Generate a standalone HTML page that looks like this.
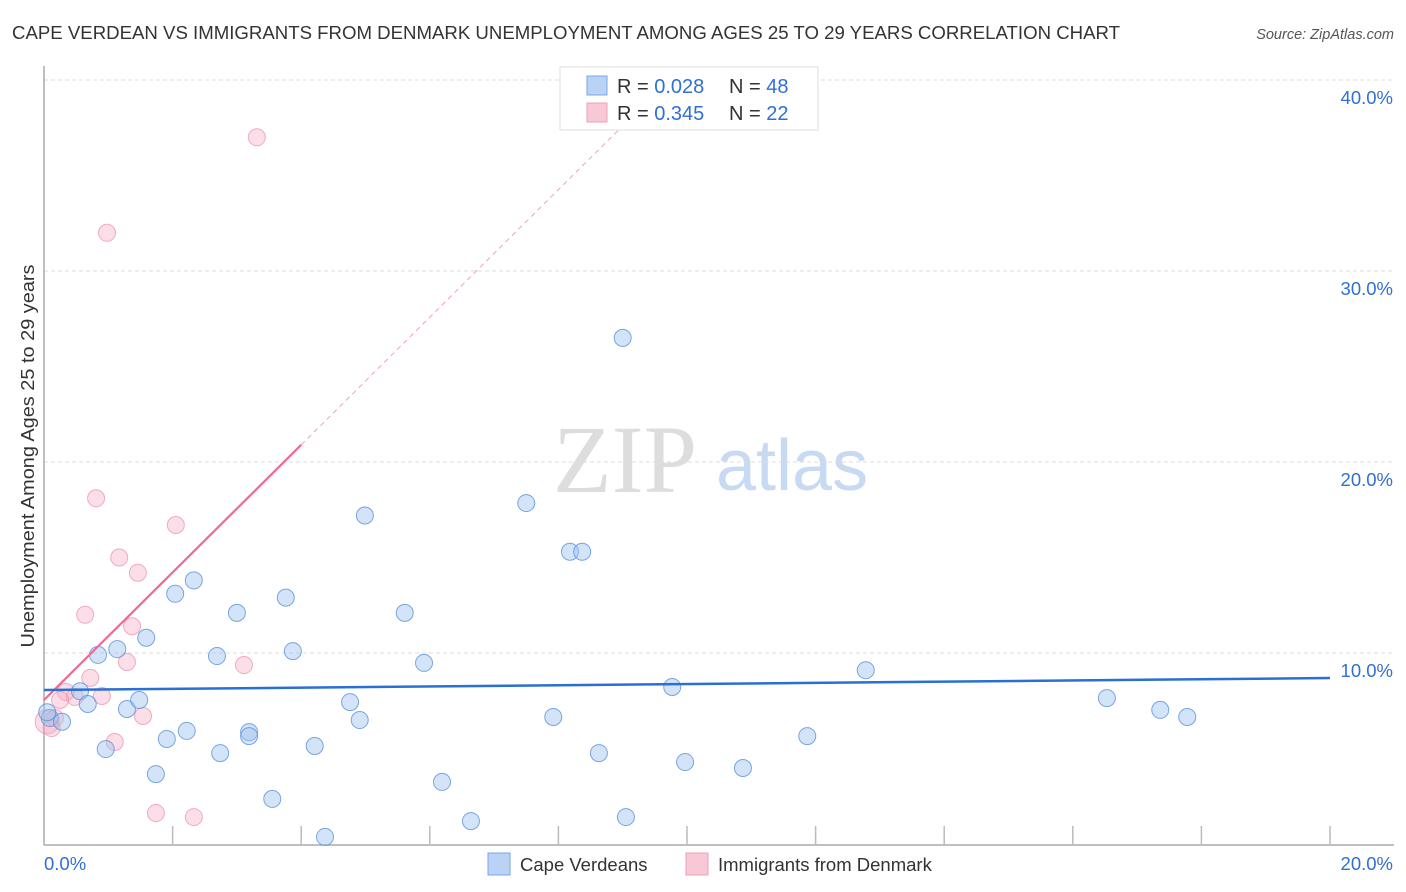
<!DOCTYPE html>
<html><head><meta charset="utf-8"><style>
body{margin:0;background:#fff;font-family:"Liberation Sans",sans-serif;}
svg{display:block}
</style></head><body>
<svg id="chart" width="1406" height="892">
<text x="12" y="39" font-size="18.4" fill="#333" textLength="1108" lengthAdjust="spacingAndGlyphs">CAPE VERDEAN VS IMMIGRANTS FROM DENMARK UNEMPLOYMENT AMONG AGES 25 TO 29 YEARS CORRELATION CHART</text>
<text x="1394" y="39" font-size="14.5" fill="#555" font-style="italic" text-anchor="end">Source: ZipAtlas.com</text>
<g>
<text x="553" y="492" font-family="Liberation Serif,serif" font-size="96" fill="#ddd">ZIP</text>
<text x="716" y="490" font-size="72" fill="#c8daf2">atlas</text>
</g>
<g id="grid"></g>
<g id="axes"></g>
<g id="marks"></g>
<text transform="translate(34,456) rotate(-90)" font-size="18.5" fill="#333" text-anchor="middle" textLength="383" lengthAdjust="spacingAndGlyphs">Unemployment Among Ages 25 to 29 years</text>
<g>
<rect x="560" y="67" width="258" height="63" fill="#fff" stroke="#ddd"/>
<rect x="587" y="76" width="20" height="19" fill="#b9d2f5" stroke="#7aa7e6"/>
<text x="617" y="93" font-size="20" fill="#333">R = <tspan fill="#2f6fd6">0.028</tspan></text>
<text x="729" y="93" font-size="20" fill="#333">N = <tspan fill="#2f6fd6">48</tspan></text>
<rect x="587" y="103" width="20" height="19" fill="#f9c8d6" stroke="#f0a0b8"/>
<text x="617" y="120" font-size="20" fill="#333">R = <tspan fill="#2f6fd6">0.345</tspan></text>
<text x="729" y="120" font-size="20" fill="#333">N = <tspan fill="#2f6fd6">22</tspan></text>
</g>
<g>
<rect x="488" y="853" width="22" height="22" fill="#b9d2f5" stroke="#7aa7e6"/>
<text x="520" y="871" font-size="18.5" fill="#333">Cape Verdeans</text>
<rect x="686" y="853" width="22" height="22" fill="#f9c8d6" stroke="#f0a0b8"/>
<text x="718" y="871" font-size="18.5" fill="#333">Immigrants from Denmark</text>
</g>
</svg>
<script>
const blueX=[0.09,0.28,0.56,0.68,0.84,0.96,1.14,1.29,1.48,1.59,1.74,1.91,2.04,2.22,2.33,2.69,2.74,3.0,3.19,3.19,3.55,3.76,3.87,4.21,4.37,4.76,4.91,4.99,5.61,5.91,6.19,6.64,7.5,7.92,8.18,8.37,8.63,9.0,9.05,9.77,9.97,10.87,11.87,12.78,16.53,17.36,17.78,0.05];
const blueY=[6.6,6.4,8.0,7.33,9.9,4.97,10.2,7.07,7.54,10.8,3.66,5.5,13.1,5.92,13.8,9.84,4.76,12.1,5.86,5.65,2.36,12.9,10.1,5.13,0.37,7.43,6.49,17.2,12.1,9.48,3.25,1.2,17.85,6.65,15.3,15.3,4.76,26.5,1.41,8.22,4.29,3.98,5.65,9.1,7.64,7.02,6.65,6.9];
const pinkX=[0.05,0.17,0.34,0.48,0.64,0.72,0.81,0.9,0.98,1.1,1.17,1.29,1.37,1.46,1.54,1.74,2.05,2.33,3.11,3.31,0.25,0.12];
const pinkY=[6.4,6.6,7.96,7.7,12.0,8.7,18.1,7.75,32.0,5.34,15.0,9.53,11.4,14.2,6.7,1.62,16.7,1.41,9.37,37.0,7.54,6.07];
const yTicks=[10,20,30,40];
const yTickLabels=["10.0%","20.0%","30.0%","40.0%"];
const xTicks=[0,2,4,6,8,10,12,14,16,18,20];
const xEndLabels=["0.0%","20.0%"];
const blueTrend=[8.06,8.69];
const pinkTrend=[7.54,20.9];
const pinkSolidEnd=4.0;

const NS="http://www.w3.org/2000/svg";
const X=v=>44+v*64.3;
const Y=v=>844-v*19.1;
function mk(tag,attrs,parent){const e=document.createElementNS(NS,tag);for(const k in attrs)e.setAttribute(k,attrs[k]);parent.appendChild(e);return e;}
const grid=document.getElementById('grid'),axes=document.getElementById('axes'),marks=document.getElementById('marks');
yTicks.forEach((t,i)=>{
 const l=mk('line',{x1:44,x2:1394,y1:Y(t),y2:Y(t),stroke:'#ddd','stroke-dasharray':'4,3'},grid);
 
 
 const tx=mk('text',{x:1393,y:Y(t)+24,'font-size':18.5,fill:'#2f6fd6','text-anchor':'end'},axes);
 tx.textContent=yTickLabels[i];
 
 
});
const ya=mk('line',{x1:44,x2:44,y1:66,y2:845,stroke:'#aaa','stroke-width':1.5},axes);


const xa=mk('line',{x1:44,x2:1394,y1:845,y2:845,stroke:'#aaa','stroke-width':1.5},axes);


xTicks.forEach(t=>{if(t===0)return;
 const l=mk('line',{x1:X(t),x2:X(t),y1:826,y2:845,stroke:'#bbb','stroke-width':1.5},axes);
 
 
});
const xl0=mk('text',{x:44,y:870,'font-size':18.5,fill:'#2f6fd6'},axes);xl0.textContent=xEndLabels[0];


const xl1=mk('text',{x:1393,y:870,'font-size':18.5,fill:'#2f6fd6','text-anchor':'end'},axes);xl1.textContent=xEndLabels[1];



pinkX.forEach((x,i)=>{
 const c=mk('circle',{cx:X(x),cy:Y(pinkY[i]),r:i===0?12:8.5,fill:'rgba(246,172,195,0.4)',stroke:'rgba(238,140,170,0.7)','stroke-width':1},marks);
 
 
});
blueX.forEach((x,i)=>{
 const c=mk('circle',{cx:X(x),cy:Y(blueY[i]),r:8.5,fill:'rgba(160,196,240,0.45)',stroke:'rgba(90,145,220,0.8)','stroke-width':1},marks);
 
 
});
const slope=(pinkTrend[1]-pinkTrend[0])/pinkSolidEnd;
const xTop=(40.5-pinkTrend[0])/slope;
const pd=mk('line',{x1:X(pinkSolidEnd),y1:Y(pinkTrend[1]),x2:X(xTop),y2:Y(40.5),stroke:'#f0a0b8','stroke-dasharray':'5,4','stroke-width':1},marks);


const ps=mk('line',{x1:X(0),y1:Y(pinkTrend[0]),x2:X(pinkSolidEnd),y2:Y(pinkTrend[1]),stroke:'#ec6a94','stroke-width':2.2},marks);


const bt=mk('line',{x1:X(0),y1:Y(blueTrend[0]),x2:X(20),y2:Y(blueTrend[1]),stroke:'#2a6fd4','stroke-width':2.5},marks);


</script>
</body></html>
